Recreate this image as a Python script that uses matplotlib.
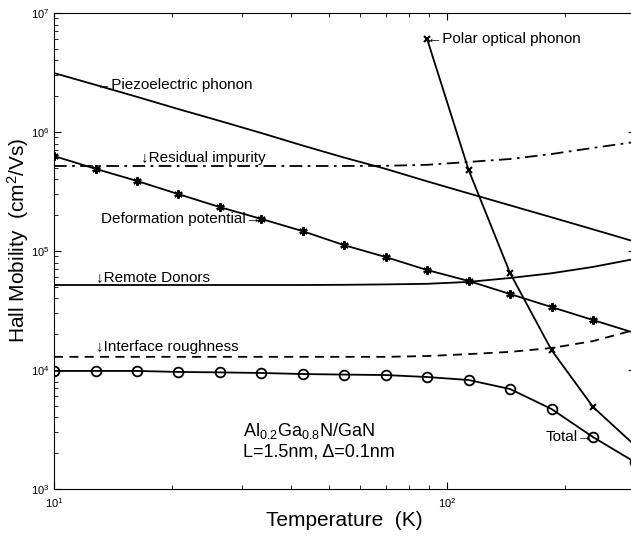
import matplotlib
matplotlib.use('Agg')
import matplotlib.pyplot as plt

plt.rcParams['font.family'] = ['Liberation Sans', 'DejaVu Sans']
plt.rcParams['mathtext.fontset'] = 'custom'
plt.rcParams['mathtext.rm'] = 'Liberation Sans'
plt.rcParams['mathtext.it'] = 'Liberation Sans:italic'

# temperatures (K) at which the curves/markers sit
temp = [10, 12.8, 16.3, 20.7, 26.4, 33.7, 42.9, 54.7, 69.8, 89.0, 113.5, 144.7, 184.5, 235.3, 300]

piezo = [3.13e6, 2.48e6, 1.97e6, 1.56e6, 1.24e6, 9.8e5, 7.7e5, 6.1e5, 4.9e5, 3.85e5,
         3.05e5, 2.42e5, 1.92e5, 1.52e5, 1.2e5]
residual = [5.18e5, 5.18e5, 5.18e5, 5.18e5, 5.18e5, 5.18e5, 5.18e5, 5.18e5, 5.2e5, 5.3e5,
            5.6e5, 5.93e5, 6.53e5, 7.35e5, 8.24e5]
deform = [6.28e5, 4.89e5, 3.87e5, 3.01e5, 2.34e5, 1.86e5, 1.47e5, 1.12e5, 8.9e4, 6.92e4,
          5.6e4, 4.35e4, 3.38e4, 2.63e4, 2.05e4]
remote = [5.18e4, 5.18e4, 5.18e4, 5.18e4, 5.18e4, 5.18e4, 5.18e4, 5.2e4, 5.24e4, 5.3e4,
          5.5e4, 5.93e4, 6.5e4, 7.35e4, 8.57e4]
interface = [1.29e4, 1.29e4, 1.29e4, 1.29e4, 1.29e4, 1.29e4, 1.29e4, 1.29e4, 1.29e4, 1.31e4,
             1.36e4, 1.42e4, 1.53e4, 1.75e4, 2.17e4]
total = [9.82e3, 9.82e3, 9.82e3, 9.63e3, 9.55e3, 9.44e3, 9.25e3, 9.15e3, 9.07e3, 8.73e3,
         8.24e3, 6.92e3, 4.70e3, 2.73e3, 1.69e3]

temp_pop = [89.0, 113.5, 144.7, 184.5, 235.3, 300]
polar = [6.05e6, 4.8e5, 6.53e4, 1.47e4, 4.89e3, 2.34e3]

fig = plt.figure(figsize=(6.31, 5.38), dpi=100)
ax = fig.add_axes([54/631, 49/538, 580.5/631, 476/538])

lw = 1.3
ax.plot(temp, piezo, 'k-', lw=lw)
ax.plot(temp, residual, 'k', lw=lw, linestyle=(0, (7, 3, 1.5, 3)))
ax.plot(temp, deform, 'k-', lw=lw, marker=(6, 2, 0), ms=6, mew=1.6)
ax.plot(temp, remote, 'k-', lw=lw)
ax.plot(temp, interface, 'k', lw=lw, linestyle=(0, (5, 3.5)))
ax.plot(temp, total, 'k-', lw=lw, marker='o', ms=7, mfc='none', mew=1.3)
ax.plot(temp_pop, polar, 'k-', lw=lw, marker='x', ms=5, mew=1.5)

ax.set_xscale('log')
ax.set_yscale('log')
ax.set_xlim(10, 300)
ax.set_ylim(1e3, 1e7)

ax.tick_params(which='both', direction='in', top=True, right=True, labelsize=8)
ax.tick_params(which='major', length=5)
ax.tick_params(which='minor', length=3)
ax.tick_params(axis='x', pad=5)

ax.set_xlabel('Temperature  (K)', fontsize=15, labelpad=1)
ax.set_ylabel('Hall Mobility  (cm$^2$/Vs)', fontsize=15)
ax.yaxis.set_label_coords(-0.039, 0.523)

fs = 11
ax.text(12.8, 2.48e6, '\u2190Piezoelectric phonon', fontsize=fs, va='center', ha='left')
ax.text(16.6, 5.6e5, '\u2193Residual impurity', fontsize=fs, va='baseline', ha='left')
ax.text(33.7, 1.86e5, 'Deformation potential\u2192', fontsize=fs, va='center', ha='right')
ax.text(12.8, 5.6e4, '\u2193Remote Donors', fontsize=fs, va='baseline', ha='left')
ax.text(12.8, 1.45e4, '\u2193Interface roughness', fontsize=fs, va='baseline', ha='left')
ax.text(89.0, 6.05e6, '\u2190Polar optical phonon', fontsize=fs, va='center', ha='left')
ax.text(235.3, 2.73e3, 'Total\u2192', fontsize=fs, va='center', ha='right')
ax.text(30.3, 2.79e3, 'Al$_{0.2}$Ga$_{0.8}$N/GaN', fontsize=13, va='baseline', ha='left')
ax.text(30.3, 1.86e3, 'L=1.5nm, \u0394=0.1nm', fontsize=13, va='baseline', ha='left')

fig.savefig('out.png', dpi=100)
